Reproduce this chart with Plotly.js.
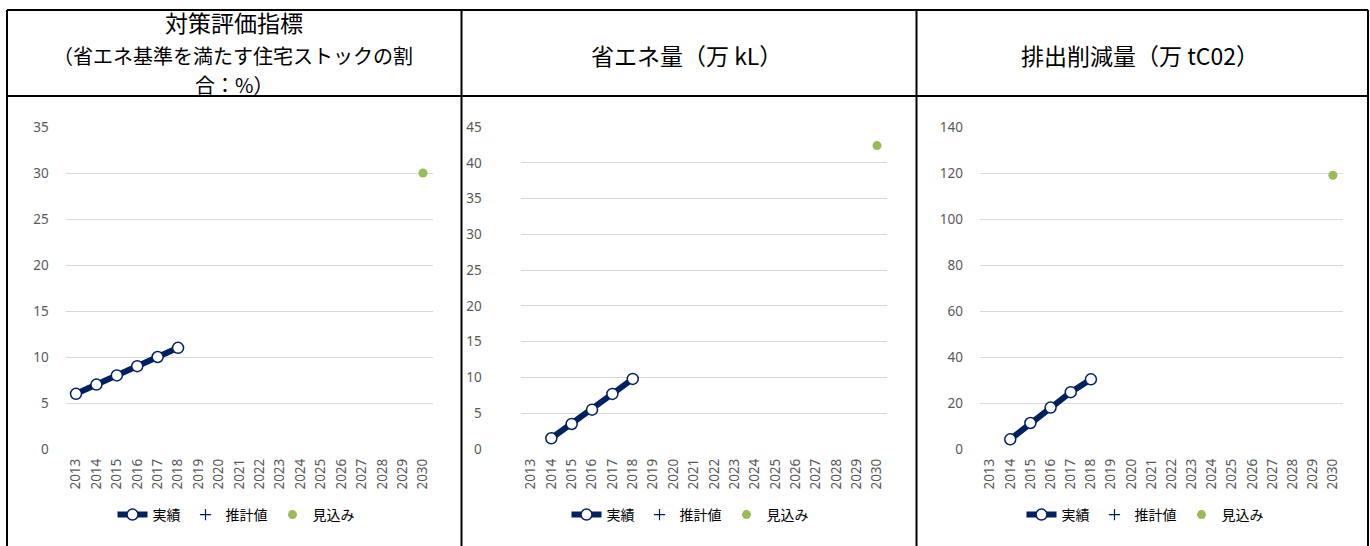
<!DOCTYPE html>
<html>
<head>
<meta charset="utf-8">
<script src="https://cdn.plot.ly/plotly-3.0.1.min.js"></script>
<style>html,body{margin:0;padding:0;background:#fff;}#chart{width:1370px;height:546px;}</style>
</head>
<body>
<div id="chart"></div>
<script>
// ---- data ----
const years = ['2013','2014','2015','2016','2017','2018','2019','2020','2021','2022','2023','2024','2025','2026','2027','2028','2029','2030'];
const legendNames = ['実績', '推計値', '見込み'];

const headers1 = ['対策評価指標', '（省エネ基準を満たす住宅ストックの割', '合：%）'];
const header2 = '省エネ量（万 kL）';
const header3 = '排出削減量（万 tC02）';

// Panel 1: share of housing stock meeting standard (%)
const actualYears1 = ['2013','2014','2015','2016','2017','2018'];
const actualValues1 = [6, 7, 8, 9, 10, 11];
const outlookYears1 = ['2030'];
const outlookValues1 = [30];

// Panel 2: energy saving (10k kL)
const actualYears2 = ['2014','2015','2016','2017','2018'];
const actualValues2 = [1.5, 3.5, 5.5, 7.7, 9.8];
const outlookYears2 = ['2030'];
const outlookValues2 = [42.4];

// Panel 3: emission reduction (10k tCO2)
const actualYears3 = ['2014','2015','2016','2017','2018'];
const actualValues3 = [4.2, 11.3, 18.0, 24.7, 30.3];
const outlookYears3 = ['2030'];
const outlookValues3 = [119];

// Estimated values (none drawn in the chart)
const estimatedYears = ['2030'];
const estimatedValues = [null];

const yRanges = [[0, 35], [0, 45], [0, 140]];
const yDticks = [5, 5, 20];

// ---- styling ----
const W = 1370, H = 546;
const navy = '#002060';
const green = '#9BBB59';
const px = v => v / W;
const py = v => 1 - v / H;

const panels = [
  {ay: actualYears1, av: actualValues1, oy: outlookYears1, ov: outlookValues1, x0: 65.8, x1: 433.2, stand: 16, lx: 236},
  {ay: actualYears2, av: actualValues2, oy: outlookYears2, ov: outlookValues2, x0: 520.8, x1: 887.2, stand: 38, lx: 690},
  {ay: actualYears3, av: actualValues3, oy: outlookYears3, ov: outlookValues3, x0: 980, x1: 1343, stand: 16, lx: 1145}
];

const traces = [];
const layout = {
  width: W, height: H,
  margin: {l: 0, r: 0, t: 0, b: 0},
  paper_bgcolor: '#fff', plot_bgcolor: '#fff',
  hovermode: false,
  font: {family: '"Noto Sans CJK JP", "Noto Sans", sans-serif', color: '#000'},
  shapes: [], annotations: []
};

panels.forEach((p, i) => {
  const n = i + 1;
  const xa = n === 1 ? 'x' : 'x' + n;
  const ya = n === 1 ? 'y' : 'y' + n;
  const lg = n === 1 ? 'legend' : 'legend' + n;
  traces.push({
    x: p.ay, y: p.av, xaxis: xa, yaxis: ya, legend: lg,
    name: legendNames[0], type: 'scatter', mode: 'lines+markers',
    line: {color: navy, width: 6},
    marker: {symbol: 'circle', size: 11, color: '#fff', line: {color: navy, width: 1.5}}
  });
  traces.push({
    x: estimatedYears, y: estimatedValues, xaxis: xa, yaxis: ya, legend: lg,
    name: legendNames[1], type: 'scatter', mode: 'markers', showlegend: true,
    marker: {symbol: 'cross-thin-open', size: 8, color: navy, line: {color: navy, width: 1.2}}
  });
  traces.push({
    x: p.oy, y: p.ov, xaxis: xa, yaxis: ya, legend: lg,
    name: legendNames[2], type: 'scatter', mode: 'markers',
    marker: {symbol: 'circle', size: 9, color: green}
  });
  layout['xaxis' + (n === 1 ? '' : n)] = {
    domain: [px(p.x0), px(p.x1)], anchor: ya,
    type: 'category', categoryorder: 'array', categoryarray: years,
    range: [-0.5, 17.5], tickvals: years, ticktext: years,
    tickangle: -90, ticklabelstandoff: 6,
    tickfont: {family: '"Noto Sans", sans-serif', size: 13.5, color: '#595959'},
    showgrid: false, showline: false, zeroline: false, ticks: '', automargin: false, fixedrange: true
  };
  layout['yaxis' + (n === 1 ? '' : n)] = {
    domain: [py(449), py(127)], anchor: xa,
    range: yRanges[i], dtick: yDticks[i], tick0: 0,
    ticklabelstandoff: p.stand,
    tickfont: {family: '"Noto Sans", sans-serif', size: 13.5, color: '#595959'},
    showgrid: true, gridcolor: '#D9D9D9', gridwidth: 1,
    zeroline: false, showline: false, ticks: '', automargin: false, fixedrange: true
  };
  layout[lg] = {
    orientation: 'h', x: px(p.lx), xanchor: 'center', y: py(515), yanchor: 'middle',
    font: {family: '"Noto Sans CJK JP", sans-serif', size: 14, color: '#000'},
    bgcolor: 'rgba(0,0,0,0)', itemwidth: 30, tracegroupgap: 0
  };
});

// table lines
const lineStyle = {color: '#000', width: 2};
[
  [7, 10, 1368, 10], [7, 96, 1368, 96],
  [7, 10, 7, 546], [461.5, 10, 461.5, 546], [916.5, 10, 916.5, 546], [1368, 10, 1368, 546]
].forEach(s => layout.shapes.push({type: 'line', xref: 'paper', yref: 'paper',
  x0: px(s[0]), y0: py(s[1]), x1: px(s[2]), y1: py(s[3]), line: lineStyle}));

// headers
const hfont = (sz) => ({family: '"Noto Sans CJK JP", sans-serif', size: sz, color: '#000'});
layout.annotations.push({text: headers1[0], x: px(234), y: py(22), xref: 'paper', yref: 'paper', showarrow: false, font: hfont(23), xanchor: 'center', yanchor: 'middle'});
layout.annotations.push({text: headers1[1], x: px(233), y: py(56), xref: 'paper', yref: 'paper', showarrow: false, font: hfont(20), xanchor: 'center', yanchor: 'middle'});
layout.annotations.push({text: headers1[2], x: px(234), y: py(84), xref: 'paper', yref: 'paper', showarrow: false, font: hfont(20), xanchor: 'center', yanchor: 'middle'});
layout.annotations.push({text: header2, x: px(686), y: py(55), xref: 'paper', yref: 'paper', showarrow: false, font: hfont(23), xanchor: 'center', yanchor: 'middle'});
layout.annotations.push({text: header3, x: px(1140), y: py(55), xref: 'paper', yref: 'paper', showarrow: false, font: hfont(23), xanchor: 'center', yanchor: 'middle'});

Plotly.newPlot('chart', traces, layout, {displayModeBar: false, staticPlot: true});
</script>
</body>
</html>
